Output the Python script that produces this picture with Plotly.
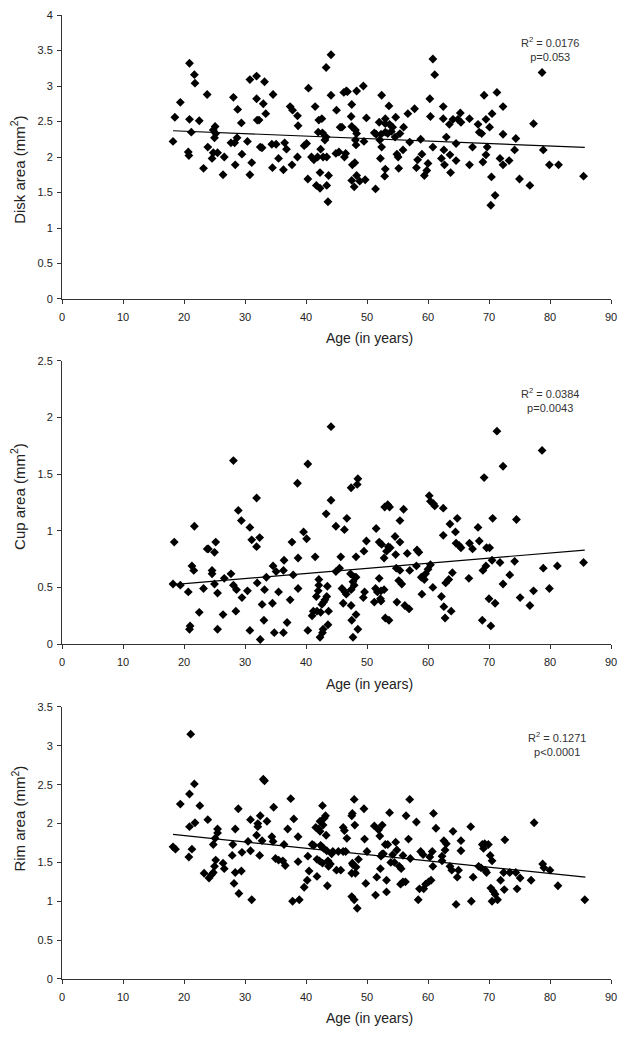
import plotly.graph_objects as go
from plotly.subplots import make_subplots

# ---------------- Panel 1: Disk area ----------------
disk_age = [18.2, 18.5, 19.4, 20.9, 20.9, 20.7, 20.8, 21.2, 21.7, 21.8, 22.5, 23.2, 23.8, 23.9, 24.6, 24.8, 25.1, 25.0, 25.2, 24.8,
            25.5, 26.4, 26.6, 27.7, 28.1, 28.3, 28.4, 28.7, 28.8, 29.4, 29.5, 30.4, 30.8, 30.8, 31.1, 31.9, 31.9, 32.0, 32.3, 32.5,
            32.8, 33.2, 33.0, 33.4, 34.6, 34.5, 34.4, 35.1, 35.5, 36.3, 36.5, 36.8, 37.4, 37.8, 37.7, 38.6, 38.7, 38.6, 39.7, 40.1,
            40.3, 40.4, 40.9, 41.3, 41.5, 41.7, 41.9, 42.0, 42.1, 42.3, 42.3, 42.4, 42.6, 42.7, 42.8, 43.1, 43.3, 43.4, 43.6, 43.4,
            43.7, 44.1, 44.1, 43.3, 44.9, 45.0, 45.6, 45.9, 45.4, 46.2, 46.5, 46.6, 46.3, 46.8, 47.4, 47.5, 47.5, 47.5, 47.6, 48.0,
            47.9, 48.1, 48.1, 48.2, 48.3, 48.3, 48.3, 48.8, 49.4, 49.5, 49.7, 49.9, 51.4, 51.2, 51.5, 52.0, 52.2, 52.4, 52.3, 52.1,
            52.4, 53.0, 53.0, 52.9, 53.0, 53.0, 53.4, 53.6, 53.7, 54.0, 54.2, 54.7, 54.6, 54.9, 55.1, 55.2, 55.4, 55.9, 56.0, 56.7,
            57.0, 57.8, 58.1, 58.3, 58.8, 59.0, 59.4, 59.8, 60.0, 60.3, 60.4, 60.8, 60.8, 61.1, 62.2, 62.5, 62.5, 62.6, 62.7, 63.0,
            63.6, 63.5, 63.7, 64.1, 64.6, 64.6, 64.9, 65.4, 65.3, 66.8, 66.8, 67.3, 68.2, 68.4, 68.8, 69.0, 69.2, 69.5, 69.5, 69.7,
            70.1, 70.4, 70.3, 70.5, 71.0, 71.3, 71.8, 72.3, 72.3, 72.3, 73.3, 74.4, 74.2, 75.0, 76.7, 77.3, 78.7, 78.9, 79.9, 81.4,
            85.5]
disk_area = [2.22, 2.56, 2.77, 3.32, 2.53, 2.07, 2.02, 2.35, 3.16, 3.04, 2.51, 1.84, 2.88, 2.14, 1.98, 2.38, 2.43, 2.27, 2.33, 2.06,
             2.06, 1.75, 2.00, 2.20, 2.84, 2.20, 1.89, 2.27, 2.67, 2.48, 2.04, 2.22, 3.09, 1.75, 1.92, 3.14, 2.82, 2.52, 2.52, 2.14,
             2.13, 3.06, 2.75, 2.61, 2.88, 1.85, 2.18, 2.18, 1.98, 1.82, 2.20, 2.11, 2.71, 2.66, 1.89, 2.58, 2.44, 2.00, 2.16, 2.19,
             1.69, 2.97, 2.00, 1.96, 2.71, 1.60, 2.00, 2.35, 2.52, 1.78, 1.56, 2.11, 2.54, 2.34, 2.00, 2.24, 3.26, 1.60, 1.37, 2.00,
             1.74, 3.44, 2.87, 2.28, 2.05, 2.66, 2.42, 2.42, 2.07, 2.91, 2.05, 2.93, 2.00, 2.92, 2.57, 2.74, 2.43, 1.67, 1.89, 1.92,
             1.58, 2.38, 2.24, 2.17, 1.74, 2.93, 2.33, 1.66, 3.00, 2.22, 1.68, 2.55, 1.55, 2.34, 2.32, 2.49, 1.98, 2.87, 2.32, 2.24,
             2.14, 2.47, 2.54, 1.73, 1.83, 2.35, 2.33, 2.72, 2.46, 2.36, 2.42, 2.56, 2.28, 2.04, 2.00, 1.84, 2.33, 2.10, 2.42, 2.61,
             2.21, 2.68, 1.85, 1.96, 2.25, 2.04, 1.74, 1.81, 1.91, 2.82, 2.57, 3.38, 2.14, 3.16, 1.98, 2.71, 2.54, 2.10, 1.89, 2.28,
             2.03, 2.46, 1.78, 2.53, 1.95, 2.19, 2.53, 2.49, 2.62, 2.54, 1.89, 2.14, 2.46, 2.35, 2.33, 1.93, 2.87, 2.53, 2.03, 2.14,
             2.42, 1.72, 1.32, 2.61, 1.46, 2.91, 1.98, 2.71, 2.32, 1.89, 1.95, 2.26, 2.10, 1.69, 1.60, 2.47, 3.19, 2.10, 1.89, 1.89,
             1.73]
disk_trend_x = [18.2, 85.7]
disk_trend_y = [2.37, 2.135]

# ---------------- Panel 2: Cup area ----------------
cup_age = [18.2, 18.4, 19.4, 20.7, 20.9, 21.0, 21.3, 21.6, 21.7, 22.5, 23.2, 23.8, 24.0, 24.6, 24.6, 25.0, 25.2, 25.0, 25.5, 25.5,
           26.4, 26.6, 27.7, 28.1, 28.1, 28.5, 28.6, 28.9, 29.4, 29.5, 30.4, 30.8, 30.8, 31.1, 31.9, 31.9, 32.0, 32.4, 32.5, 32.8,
           33.1, 33.2, 33.5, 34.5, 34.6, 34.8, 35.1, 35.5, 36.3, 36.4, 36.3, 36.9, 37.4, 37.7, 37.9, 38.6, 38.7, 38.7, 39.6, 40.1,
           40.3, 40.3, 41.0, 41.2, 41.5, 41.7, 41.8, 42.0, 42.1, 42.1, 42.3, 42.4, 42.7, 42.6, 42.8, 42.9, 43.1, 43.3, 43.4, 43.5,
           43.6, 43.7, 44.1, 44.1, 44.9, 44.9, 45.5, 45.7, 45.9, 46.1, 46.3, 46.4, 46.7, 46.6, 47.4, 47.3, 47.4, 47.4, 47.5, 47.7,
           47.7, 47.9, 48.0, 48.2, 48.2, 48.2, 48.4, 48.5, 48.5, 49.4, 49.5, 49.6, 49.9, 51.2, 51.4, 51.5, 51.7, 52.0, 52.0, 52.2,
           52.3, 52.3, 52.4, 52.8, 52.8, 52.9, 53.0, 53.2, 53.4, 53.5, 53.6, 53.7, 53.8, 54.6, 54.7, 54.8, 54.9, 55.2, 55.4, 55.4,
           55.4, 55.7, 56.0, 56.2, 56.6, 56.9, 57.0, 58.1, 58.2, 58.5, 59.0, 58.9, 59.4, 59.6, 60.0, 60.2, 60.4, 60.4, 60.8, 60.9,
           61.1, 62.2, 62.5, 62.5, 62.6, 62.8, 62.9, 63.4, 63.6, 63.8, 64.0, 64.5, 64.6, 64.8, 65.1, 65.4, 66.7, 66.8, 67.3, 68.2,
           68.4, 68.9, 69.0, 69.2, 69.5, 69.6, 70.0, 70.1, 70.3, 70.5, 70.6, 71.0, 71.3, 71.8, 72.3, 72.3, 73.4, 74.2, 74.5, 75.1,
           76.7, 77.3, 78.7, 78.9, 79.9, 81.2, 85.5]
cup_area = [0.53, 0.90, 0.52, 0.46, 0.13, 0.16, 0.69, 0.65, 1.04, 0.28, 0.49, 0.84, 0.84, 0.65, 0.62, 0.81, 0.90, 0.53, 0.45, 0.13,
            0.26, 0.58, 0.62, 1.62, 0.52, 0.29, 0.48, 1.18, 1.09, 0.41, 0.47, 1.03, 0.12, 0.92, 1.29, 0.86, 0.54, 0.94, 0.04, 0.35,
            0.21, 0.48, 0.59, 0.36, 0.69, 0.10, 0.64, 0.46, 0.10, 0.74, 0.65, 0.19, 0.39, 0.90, 0.61, 1.42, 0.76, 0.49, 0.99, 0.93,
            1.59, 0.12, 0.25, 0.29, 0.77, 0.42, 0.29, 0.47, 0.57, 0.52, 0.06, 0.28, 0.10, 0.35, 0.13, 0.37, 0.39, 1.15, 0.42, 0.51,
            0.17, 0.29, 1.92, 1.27, 1.04, 0.64, 0.67, 0.77, 0.49, 0.36, 1.01, 0.46, 1.11, 0.44, 1.38, 0.62, 0.48, 0.34, 0.21, 0.06,
            0.55, 0.52, 0.59, 0.77, 0.59, 0.26, 1.41, 1.46, 0.13, 0.41, 0.82, 0.46, 0.91, 0.37, 0.49, 1.02, 0.46, 0.90, 0.58, 0.40,
            0.38, 0.47, 0.88, 0.76, 0.48, 1.21, 0.23, 0.82, 1.23, 0.86, 0.21, 1.21, 0.85, 0.95, 0.79, 0.67, 0.37, 0.56, 0.65, 1.09,
            0.90, 0.53, 1.19, 0.34, 0.80, 0.31, 0.65, 0.69, 0.83, 0.81, 0.44, 0.59, 0.57, 0.62, 0.66, 1.31, 1.26, 0.70, 0.50, 1.24,
            1.22, 0.42, 1.20, 0.96, 0.33, 0.23, 0.54, 0.57, 1.06, 0.29, 0.63, 0.99, 0.89, 1.11, 0.87, 0.85, 0.58, 0.89, 0.84, 1.03,
            0.91, 0.21, 0.65, 1.47, 0.69, 0.85, 0.40, 0.85, 0.16, 0.74, 1.11, 0.36, 1.88, 0.72, 1.57, 0.53, 0.61, 0.73, 1.10, 0.41,
            0.34, 0.47, 1.71, 0.67, 0.49, 0.69, 0.72]
cup_trend_x = [18.2, 85.7]
cup_trend_y = [0.525, 0.83]

# ---------------- Panel 3: Rim area ----------------
rim_age = [18.2, 18.6, 19.4, 20.8, 20.9, 20.9, 21.1, 21.3, 21.7, 21.8, 22.6, 23.3, 23.9, 24.1, 24.5, 24.8, 24.8, 25.0, 25.1, 25.2,
           25.5, 25.5, 26.4, 26.6, 27.9, 28.0, 28.2, 28.4, 28.4, 28.9, 29.0, 29.4, 29.5, 30.5, 30.9, 30.9, 31.1, 31.9, 32.1, 32.1,
           32.4, 32.5, 32.8, 33.0, 33.2, 33.6, 34.4, 34.6, 34.7, 35.0, 35.5, 36.2, 36.4, 36.6, 37.0, 37.5, 37.8, 38.0, 38.7, 38.7,
           38.9, 39.7, 40.2, 40.3, 40.5, 41.0, 41.3, 41.6, 41.8, 41.8, 42.0, 42.2, 42.3, 42.3, 42.4, 42.6, 42.7, 42.7, 42.8, 42.9,
           43.0, 43.2, 43.3, 43.4, 43.5, 43.6, 43.7, 44.0, 44.2, 44.4, 45.0, 45.3, 45.7, 46.1, 46.1, 46.3, 46.5, 46.7, 47.5, 47.6,
           47.6, 47.5, 47.5, 47.7, 47.9, 47.9, 48.0, 48.1, 48.2, 48.4, 48.6, 49.5, 49.6, 49.8, 50.0, 51.2, 51.4, 51.6, 51.9, 52.1,
           52.2, 52.3, 52.5, 52.5, 52.7, 53.0, 53.2, 53.2, 53.4, 53.7, 53.9, 54.2, 54.5, 54.7, 54.9, 55.3, 55.5, 55.6, 55.9, 55.9,
           56.3, 56.4, 56.8, 57.0, 57.1, 58.1, 58.4, 58.6, 58.8, 59.2, 59.3, 59.6, 60.1, 60.3, 60.5, 60.7, 60.8, 60.9, 61.3, 62.3,
           62.3, 62.6, 62.8, 63.0, 63.6, 63.9, 64.1, 64.6, 64.8, 65.0, 65.4, 65.4, 67.0, 67.1, 67.4, 68.3, 68.7, 68.9, 69.1, 69.3,
           69.4, 69.6, 69.9, 70.2, 70.3, 70.5, 70.5, 70.7, 71.0, 71.4, 71.9, 72.4, 72.5, 72.6, 73.4, 74.4, 74.6, 75.1, 76.9, 77.4,
           78.8, 79.0, 80.0, 81.3, 85.7]
rim_area = [1.70, 1.67, 2.25, 1.57, 2.38, 1.96, 3.15, 1.67, 2.51, 2.01, 2.23, 1.36, 2.05, 1.30, 1.34, 1.37, 1.73, 1.45, 1.81, 1.53,
            1.93, 1.88, 1.49, 1.42, 1.59, 1.73, 1.23, 1.93, 1.37, 2.19, 1.10, 1.39, 1.63, 1.77, 2.05, 1.65, 1.02, 1.85, 1.96, 2.00,
            1.59, 2.10, 1.78, 2.57, 2.55, 2.03, 1.83, 1.77, 2.21, 1.55, 1.53, 1.52, 1.73, 1.46, 1.93, 2.32, 1.00, 2.06, 1.83, 1.51,
            1.02, 1.18, 1.27, 1.58, 1.39, 1.73, 1.72, 1.95, 1.32, 1.54, 1.93, 1.52, 1.90, 2.03, 1.72, 1.70, 2.23, 1.49, 1.98, 1.68,
            2.07, 2.10, 1.85, 1.65, 1.20, 1.52, 1.45, 1.48, 1.61, 1.64, 1.40, 1.64, 1.40, 1.64, 1.95, 1.91, 1.64, 1.81, 2.10, 2.13,
            1.49, 1.36, 1.06, 1.47, 2.31, 1.02, 1.98, 1.36, 1.44, 0.91, 1.54, 2.19, 1.80, 1.23, 1.64, 1.97, 1.08, 1.31, 1.92, 1.84,
            1.42, 1.58, 1.98, 1.61, 1.61, 1.73, 1.27, 1.12, 1.73, 2.14, 1.50, 1.60, 1.50, 1.76, 1.66, 1.45, 1.22, 1.42, 1.59, 1.25,
            1.25, 2.10, 1.80, 2.31, 1.55, 2.02, 1.02, 1.16, 1.64, 1.60, 1.16, 1.22, 1.25, 1.57, 1.27, 1.64, 1.45, 2.13, 1.94, 1.58,
            1.52, 1.78, 1.66, 1.74, 1.45, 1.40, 1.90, 0.96, 1.31, 1.40, 1.78, 1.65, 1.96, 1.00, 1.31, 1.45, 1.43, 1.73, 1.68, 1.74,
            1.40, 1.37, 1.73, 1.59, 1.17, 1.52, 1.00, 1.13, 1.09, 1.02, 1.27, 1.37, 1.15, 1.79, 1.37, 1.37, 1.16, 1.30, 1.27, 2.01,
            1.48, 1.43, 1.40, 1.20, 1.02]
rim_trend_x = [18.2, 85.8]
rim_trend_y = [1.86, 1.31]

x_title = "Age (in years)"
y_titles = ["Disk area (mm<sup>2</sup>)", "Cup area (mm<sup>2</sup>)", "Rim area (mm<sup>2</sup>)"]
y_max = [4.0, 2.5, 3.5]
notes = ["R<sup>2</sup> = 0.0176<br>p=0.053",
         "R<sup>2</sup> = 0.0384<br>p=0.0043",
         "R<sup>2</sup> = 0.1271<br>p&lt;0.0001"]

series = [(disk_age, disk_area, disk_trend_x, disk_trend_y),
          (cup_age, cup_area, cup_trend_x, cup_trend_y),
          (rim_age, rim_area, rim_trend_x, rim_trend_y)]

FONT = "Liberation Sans, Arial, sans-serif"
TXT = "#222222"
fig = make_subplots(rows=3, cols=1)

# layout positions (paper / domain fractions)
domains = [(0.7054, 1.0), (0.3475, 0.6411), (0.0, 0.2822)]
note_pos = [(0.946, 0.938), (0.946, 0.917), (0.958, 0.923)]
ytitle_pos = [-0.080, -0.080, -0.080]
ytitle_y = [0.455, 0.52, 0.59]
xtitle_y = [-0.137, -0.14, -0.143]

for i, (ax, ay, tx, ty) in enumerate(series, start=1):
    fig.add_trace(go.Scatter(x=ax, y=ay, mode="markers",
                             marker=dict(symbol="diamond", size=6.8, color="black"),
                             showlegend=False, hoverinfo="x+y"), row=i, col=1)
    fig.add_trace(go.Scatter(x=tx, y=ty, mode="lines",
                             line=dict(color="black", width=1.2),
                             showlegend=False, hoverinfo="skip"), row=i, col=1)
    xa = "xaxis" if i == 1 else f"xaxis{i}"
    ya = "yaxis" if i == 1 else f"yaxis{i}"
    fig.layout[xa].update(
        range=[0, 90], dtick=10, tick0=0, showgrid=False, zeroline=False,
        showline=True, linecolor="#333", linewidth=1, ticks="outside",
        ticklen=4, tickcolor="#333", ticklabelstandoff=4,
        tickfont=dict(size=11, color=TXT, family=FONT), automargin=False,
    )
    fig.layout[ya].update(
        domain=list(domains[i - 1]), range=[0, y_max[i - 1]], dtick=0.5, tick0=0,
        showgrid=False, zeroline=False, showline=True, linecolor="#333", linewidth=1,
        ticks="outside", ticklen=4, tickcolor="#333", ticklabelstandoff=2,
        tickfont=dict(size=11, color=TXT, family=FONT), automargin=False,
    )
    xref = "x domain" if i == 1 else f"x{i} domain"
    yref = "y domain" if i == 1 else f"y{i} domain"
    fig.add_annotation(text=notes[i - 1], xref=xref, yref=yref,
                       x=note_pos[i - 1][0], y=note_pos[i - 1][1],
                       showarrow=False, align="center",
                       font=dict(size=11, color="#333", family=FONT))
    fig.add_annotation(text=x_title, xref=xref, yref=yref, x=0.561, y=xtitle_y[i - 1],
                       showarrow=False, xanchor="center", yanchor="middle",
                       font=dict(size=14, color=TXT, family=FONT))
    fig.add_annotation(text=y_titles[i - 1], xref=xref, yref=yref,
                       x=ytitle_pos[i - 1], y=ytitle_y[i - 1], textangle=-90,
                       showarrow=False, xanchor="center", yanchor="middle",
                       font=dict(size=15, color=TXT, family=FONT))

fig.update_layout(
    width=631, height=1040,
    margin=dict(l=62, r=20, t=15, b=61),
    paper_bgcolor="white", plot_bgcolor="white",
    font=dict(family=FONT),
)

# remove the browser's default 8px page margin so the figure sits at (0, 0)
fig.write_html("out.html", config={"displayModeBar": False},
               post_script="document.body.style.margin='0px';")
